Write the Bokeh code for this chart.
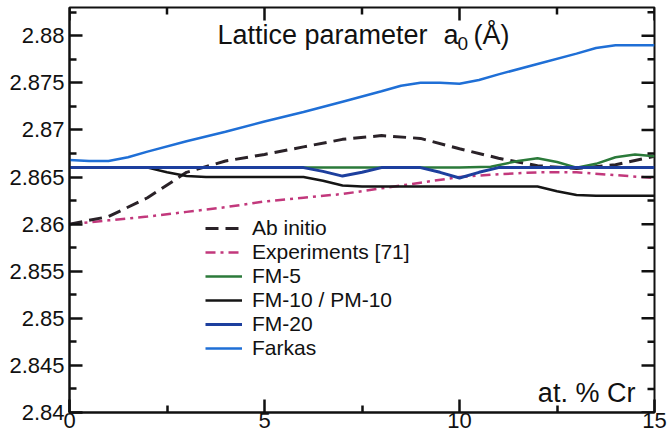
from bokeh.plotting import figure
from bokeh.models import Range1d, FixedTicker, Legend, LegendItem, Label
from bokeh.embed import file_html
from bokeh.resources import INLINE

# Composition in at.% Cr and lattice parameter a0 (Angstrom) for each data set
ab_initio_x = [0, 1, 2, 3, 4, 5, 6, 7, 8, 9, 10, 11, 12, 13, 14, 15]
ab_initio_y = [2.8600, 2.8608, 2.8628, 2.8655, 2.8667, 2.8674, 2.8682, 2.8690,
               2.8694, 2.8691, 2.8680, 2.8670, 2.8662, 2.8659, 2.8663, 2.8672]

experiments_x = [0, 1, 2, 3, 4, 5, 6, 7, 8, 9, 10, 11, 12, 13, 14, 15]
experiments_y = [2.8600, 2.8604, 2.8608, 2.8613, 2.8618, 2.8624, 2.8628, 2.8632,
                 2.8638, 2.8644, 2.8650, 2.8653, 2.8655, 2.8655, 2.8652, 2.8649]

fm5_x = [0, 5, 10, 10.8, 11.5, 12, 12.5, 13, 13.5, 14, 14.5, 15]
fm5_y = [2.8660, 2.8660, 2.8660, 2.8661, 2.8667, 2.8670, 2.8666, 2.8660,
         2.8664, 2.8671, 2.8674, 2.8672]

fm10_x = [0, 2, 2.5, 3, 3.5, 6, 6.5, 7, 7.5, 12, 12.5, 13, 13.5, 15]
fm10_y = [2.8660, 2.8660, 2.8655, 2.8651, 2.8650, 2.8650, 2.8646, 2.8641,
          2.8640, 2.8640, 2.8635, 2.8631, 2.8630, 2.8630]

fm20_x = [0, 6, 6.5, 7, 7.5, 8, 9, 9.5, 10, 10.5, 11, 15]
fm20_y = [2.8660, 2.8660, 2.8656, 2.8651, 2.8655, 2.8660, 2.8660, 2.8655,
          2.8649, 2.8655, 2.8660, 2.8660]

farkas_x = [0, 0.5, 1, 1.5, 2, 3, 4, 5, 6, 7, 8, 8.5, 9, 9.5, 10, 10.5, 11,
            12, 13, 13.5, 14, 15]
farkas_y = [2.8668, 2.8667, 2.8667, 2.8671, 2.8677, 2.8688, 2.8698, 2.8709,
            2.8719, 2.8730, 2.8741, 2.8747, 2.8750, 2.8750, 2.8749, 2.8753,
            2.8759, 2.8770, 2.8781, 2.8787, 2.8790, 2.8790]

series_names = ["Ab initio", "Experiments [71]", "FM-5", "FM-10 / PM-10",
                "FM-20", "Farkas"]

x_ticks = [0, 5, 10, 15]
x_tick_labels = ["0", "5", "10", "15"]
x_minor_ticks = [2.5, 7.5, 12.5]

y_ticks = [2.84, 2.845, 2.85, 2.855, 2.86, 2.865, 2.87, 2.875, 2.88]
y_tick_labels = ["2.84", "2.845", "2.85", "2.855", "2.86", "2.865", "2.87",
                 "2.875", "2.88"]
y_minor_ticks = [2.8425, 2.8475, 2.8525, 2.8575, 2.8625, 2.8675, 2.8725,
                 2.8775, 2.8825]

X0, X1 = 0, 15
Y0, Y1 = 2.84, 2.883

FONT = "Liberation Sans"
INK = "#111111"

p = figure(width=667, height=437, output_backend="svg", toolbar_location=None,
           x_range=Range1d(X0, X1), y_range=Range1d(Y0, Y1),
           min_border_left=69, min_border_right=13, min_border_top=7,
           min_border_bottom=25)
p.grid.visible = False
p.outline_line_color = INK
p.outline_line_width = 2
p.background_fill_color = "white"
p.border_fill_color = "white"

# data units per screen pixel inside the frame
frame_w, frame_h = 667 - 69 - 13, 437 - 7 - 25
dx = (X1 - X0) / frame_w
dy = (Y1 - Y0) / frame_h
MAJOR, MINOR = 13, 7

for ax in (p.xaxis, p.yaxis):
    ax.axis_line_color = INK
    ax.axis_line_width = 2
    ax.major_tick_in = MAJOR
    ax.major_tick_out = 0
    ax.minor_tick_in = MINOR
    ax.minor_tick_out = 0
    ax.major_tick_line_color = INK
    ax.major_tick_line_width = 2.5
    ax.minor_tick_line_color = INK
    ax.minor_tick_line_width = 2.5
    ax.major_label_text_font = FONT
    ax.major_label_text_font_size = "22px"
    ax.major_label_text_color = INK

p.xaxis.ticker = FixedTicker(ticks=x_ticks, minor_ticks=x_minor_ticks)
p.yaxis.ticker = FixedTicker(ticks=y_ticks, minor_ticks=y_minor_ticks)
p.xaxis.major_label_standoff = 0
p.yaxis.major_label_standoff = 5
p.xaxis.major_label_overrides = dict(zip(x_ticks, x_tick_labels))
p.yaxis.major_label_overrides = dict(zip(y_ticks, y_tick_labels))

# Curves
r_exp = p.line(experiments_x, experiments_y, line_color="#c2387c",
               line_width=2.5, line_dash="10 5 3 5")
r_ab = p.line(ab_initio_x, ab_initio_y, line_color="#2a2228", line_width=3,
              line_dash="13 7")
r_fm5 = p.line(fm5_x, fm5_y, line_color="#2b7a3a", line_width=2.5)
r_fm10 = p.line(fm10_x, fm10_y, line_color="#151515", line_width=2.5)
r_fm20 = p.line(fm20_x, fm20_y, line_color="#1d3f9e", line_width=3)
r_fk = p.line(farkas_x, farkas_y, line_color="#1f6fd6", line_width=2.5)

# Mirrored inward tick marks along the top and right edges of the frame
nx, nxm = len(x_ticks), len(x_minor_ticks)
ny, nym = len(y_ticks), len(y_minor_ticks)
p.segment(x0=x_ticks, y0=[Y1] * nx, x1=x_ticks, y1=[Y1 - MAJOR * dy] * nx,
          line_color=INK, line_width=2.5)
p.segment(x0=x_minor_ticks, y0=[Y1] * nxm, x1=x_minor_ticks,
          y1=[Y1 - MINOR * dy] * nxm, line_color=INK, line_width=2.5)
p.segment(x0=[X1] * ny, y0=y_ticks, x1=[X1 - MAJOR * dx] * ny, y1=y_ticks,
          line_color=INK, line_width=2.5)
p.segment(x0=[X1] * nym, y0=y_minor_ticks, x1=[X1 - MINOR * dx] * nym,
          y1=y_minor_ticks, line_color=INK, line_width=2.5)

renderers = [r_ab, r_exp, r_fm5, r_fm10, r_fm20, r_fk]
legend = Legend(items=[LegendItem(label=n, renderers=[r])
                       for n, r in zip(series_names, renderers)],
                location=(136, 52), margin=0, padding=0, spacing=0,
                glyph_width=37, glyph_height=22, label_height=22,
                label_standoff=10, label_text_font=FONT,
                label_text_font_size="21px", label_text_color=INK,
                border_line_alpha=0, background_fill_alpha=0)
p.add_layout(legend, "center")

# Title with subscript, and the composition label
title_y = 2.88011
p.add_layout(Label(x=3.795, y=title_y, text="Lattice parameter",
                   text_font=FONT, text_font_size="27px", text_color=INK,
                   text_baseline="alphabetic"))
p.add_layout(Label(x=9.59, y=title_y, text="a", text_font=FONT,
                   text_font_size="27px", text_color=INK,
                   text_baseline="alphabetic"))
p.add_layout(Label(x=9.949, y=2.87915, text="0", text_font=FONT,
                   text_font_size="19px", text_color=INK,
                   text_baseline="alphabetic"))
p.add_layout(Label(x=10.359, y=title_y, text="(Å)", text_font=FONT,
                   text_font_size="27px", text_color=INK,
                   text_baseline="alphabetic"))
p.add_layout(Label(x=14.51, y=2.84212, text="at. % Cr", text_font=FONT,
                   text_font_size="27px", text_color=INK,
                   text_align="right", text_baseline="alphabetic"))

open("out.html", "w").write(file_html(p, INLINE))
